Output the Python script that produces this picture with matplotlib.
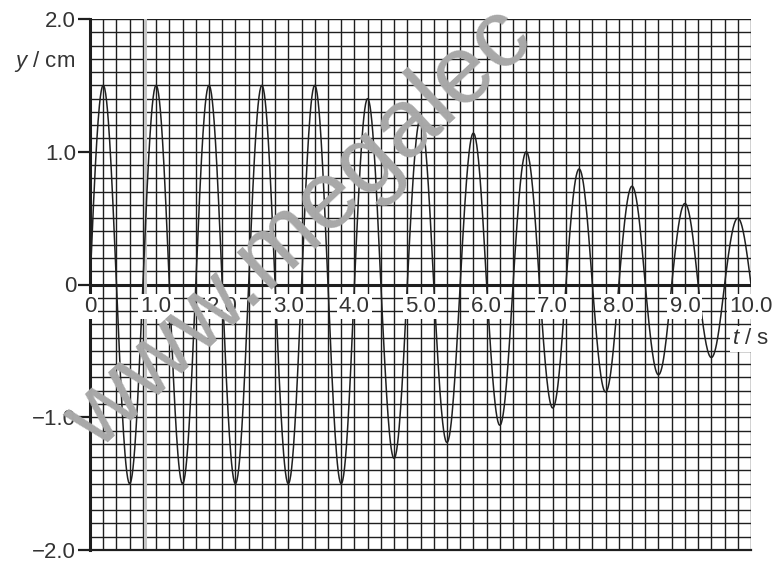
"""Damped oscillation y against t drawn on graph-paper style grid."""

import matplotlib

matplotlib.use("Agg")
import matplotlib.pyplot as plt
import numpy as np
from matplotlib.ticker import MultipleLocator

plt.rcParams["font.family"] = ["Liberation Sans", "DejaVu Sans"]
plt.rcParams["mathtext.fontset"] = "custom"
plt.rcParams["mathtext.it"] = "Liberation Sans:italic"
plt.rcParams["mathtext.rm"] = "Liberation Sans"

# extrema (t in s, y in cm)
peak_t = [0.2, 1.0, 1.8, 2.6, 3.4, 4.2, 5.0, 5.8, 6.6, 7.4, 8.2, 9.0, 9.8]
peak_y = [1.5, 1.5, 1.5, 1.5, 1.5, 1.4, 1.25, 1.14, 1.0, 0.87, 0.74, 0.61, 0.5]
trough_t = [0.6, 1.4, 2.2, 3.0, 3.8, 4.6, 5.4, 6.2, 7.0, 7.8, 8.6, 9.4]
trough_y = [-1.5, -1.5, -1.5, -1.5, -1.5, -1.31, -1.19, -1.06, -0.93, -0.81, -0.68, -0.55]

x_ticks = [0, 1.0, 2.0, 3.0, 4.0, 5.0, 6.0, 7.0, 8.0, 9.0, 10.0]
x_labels = ["0", "1.0", "2.0", "3.0", "4.0", "5.0", "6.0", "7.0", "8.0", "9.0", "10.0"]
y_ticks = [-2.0, -1.0, 0, 1.0, 2.0]
y_labels = ["\u22122.0", "\u22121.0", "0", "1.0", "2.0"]

INK = "#1e1e1e"
TEXT = "#333333"
FS = 16


def build_curve(half_width=0.4, n=60):
    """Join half-sine lobes centred on each extremum."""
    ext = sorted(zip(peak_t + trough_t, peak_y + trough_y))
    ts, ys = [], []
    for tc, amp in ext:
        t = np.linspace(tc - half_width / 2, tc + half_width / 2, n)
        ts.append(t)
        ys.append(amp * np.sin(np.pi * (t - (tc - half_width / 2)) / half_width))
    return np.concatenate(ts), np.concatenate(ys)


def main():
    fig = plt.figure(figsize=(7.76, 5.62), dpi=100)
    ax = fig.add_axes([90 / 776, 12 / 562, 661 / 776, 531 / 562])

    ax.set_xlim(0, 10)
    ax.set_ylim(-2, 2)

    ax.xaxis.set_minor_locator(MultipleLocator(0.2))
    ax.yaxis.set_minor_locator(MultipleLocator(0.1))
    ax.set_xticks(x_ticks)
    ax.set_xticklabels([])
    ax.set_yticks(y_ticks)
    ax.set_yticklabels(y_labels, fontsize=FS, color=TEXT)
    ax.tick_params(axis="x", which="both", length=0)
    ax.tick_params(axis="y", which="major", length=9, width=1.6, color=INK,
                   direction="out", pad=1)
    ax.tick_params(axis="y", which="minor", length=0)
    ax.grid(which="both", color=INK, linewidth=1.0)
    ax.set_axisbelow(True)

    for side in ("top", "right"):
        ax.spines[side].set_visible(False)
    ax.spines["left"].set_linewidth(2.2)
    ax.spines["left"].set_color(INK)
    ax.spines["bottom"].set_linewidth(1.6)
    ax.spines["bottom"].set_color(INK)
    ax.axhline(0, color=INK, linewidth=2.2, zorder=2)

    # faint scan line from the original page
    ax.axvline(0.83, color="#c4c4c4", linewidth=2.2, zorder=2)

    t, y = build_curve()
    ax.plot(t, y, color="#202020", linewidth=1.1, zorder=3)

    for xv, lab in zip(x_ticks, x_labels):
        ax.text(xv, -0.165, lab, ha="center", va="center", fontsize=FS,
                color=TEXT, zorder=4, clip_on=False,
                bbox=dict(boxstyle="square,pad=0.1", fc="white", ec="none"))

    ax.text(9.72, -0.41, r"$\it{t}$ / s", ha="left", va="center", fontsize=FS,
            color=TEXT, zorder=4, clip_on=False,
            bbox=dict(boxstyle="square,pad=0.1", fc="white", ec="none"))
    ax.text(-0.23, 1.68, r"$\it{y}$ / cm", ha="right", va="center", fontsize=FS,
            color=TEXT, clip_on=False)

    fig.text(98 / 776, 1 - 452 / 562, "www.megalec", rotation=43,
             rotation_mode="anchor", ha="left", va="baseline", fontsize=70,
             color="#a8a8a8", zorder=10)

    fig.savefig("out.png", dpi=100)


if __name__ == "__main__":
    main()
